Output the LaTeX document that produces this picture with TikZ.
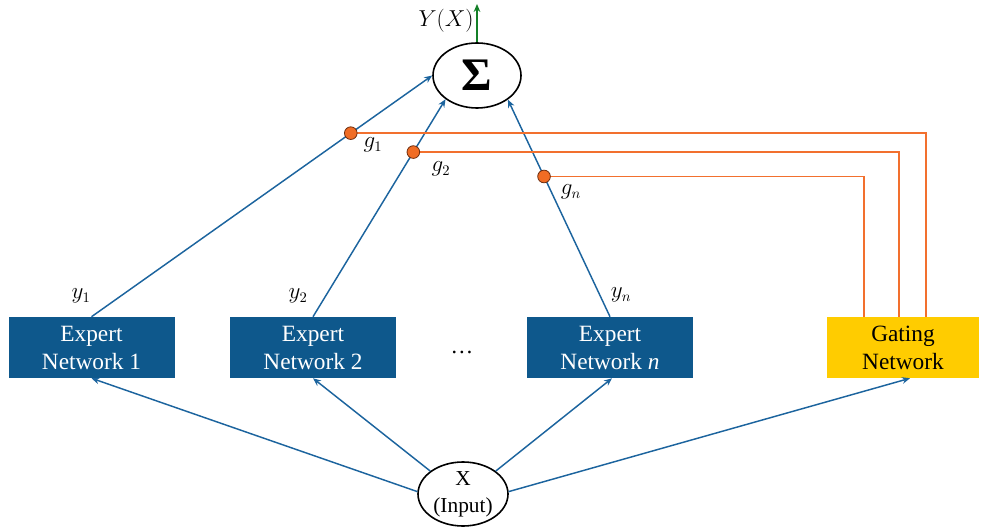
\documentclass[tikz,border=0pt]{standalone}
\usepackage{fontspec}
\setmainfont{Liberation Serif}
\usetikzlibrary{arrows.meta,calc,shapes.geometric}
\definecolor{boxblue}{RGB}{14,88,140}
\definecolor{arrblue}{RGB}{28,100,158}
\definecolor{gold}{RGB}{255,204,0}
\definecolor{gorange}{RGB}{242,112,46}
\definecolor{dotorange}{RGB}{240,108,36}
\definecolor{dotedge}{RGB}{110,45,15}
\definecolor{outgreen}{RGB}{20,128,40}
\begin{document}
\begin{tikzpicture}[x=0.75pt,y=-0.75pt,
  expbox/.style={rectangle,fill=boxblue,text=white,minimum width=124.5pt,minimum height=45.75pt,inner sep=0pt,align=center,font=\fontsize{17.5}{21}\selectfont},
  gatebox/.style={rectangle,fill=gold,text=black,minimum width=114pt,minimum height=45.75pt,inner sep=0pt,align=center,font=\fontsize{17.5}{21}\selectfont},
  ell/.style={ellipse,draw=black,line width=1.2pt,fill=white,inner sep=0pt},
  arr/.style={draw=arrblue,line width=1.1pt,-{Stealth[length=6pt,width=5pt]}},
  gline/.style={draw=gorange,line width=1.4pt},
  gdot/.style={circle,fill=dotorange,draw=dotedge,line width=0.6pt,minimum size=9.5pt,inner sep=0pt},
  lbl/.style={font=\fontsize{16}{18}\selectfont,inner sep=0pt}
]
\useasboundingbox (0,0) rectangle (981,527);

% nodes
\node[ell,minimum width=66pt,minimum height=48.75pt] (sig) at (477,75.5) {\fontsize{35}{35}\selectfont\textbf{Σ}};
\node[ell,minimum width=67.5pt,minimum height=48pt,align=center,font=\fontsize{16}{20}\selectfont] (inp) at (463,494) {X\\(Input)};
\node[expbox] (e1) at (91.5,347.5) {Expert\\Network 1};
\node[expbox] (e2) at (313,347.5) {Expert\\Network 2};
\node[expbox] (en) at (610,347.5) {Expert\\Network \textit{n}};
\node[gatebox] (gate) at (903,347.5) {Gating\\Network};
\node[font=\fontsize{17}{20}\selectfont,inner sep=0pt] (dots) at (462,352) {\ldots};

% output
\coordinate (out) at (477,4);
\draw[draw=outgreen,line width=1.1pt,-{Stealth[length=6pt,width=5pt]}] (sig.north) -- (out);
\node[lbl] (yx) at (446,21) {$Y(X)$};

% input arrows
\draw[arr] (inp.177) -- (e1.south);
\draw[arr] (inp.145) -- (e2.south);
\draw[arr] (inp.35) -- ($(en.south)+(2,0)$);
\draw[arr] (inp.3) -- ($(gate.south)+(7,0)$);

% expert outputs
\draw[arr] (e1.north) -- coordinate[pos=0.761] (g1) (sig.180);
\draw[arr] (e2.north) -- coordinate[pos=0.757] (g2) (sig.217);
\draw[arr] (en.north) -- coordinate[pos=0.646] (gn) (sig.322);

% gating lines
\coordinate (t1) at ($(gate.north)+(23,0)$);
\coordinate (t2) at ($(gate.north)+(-4,0)$);
\coordinate (tn) at ($(gate.north)+(-39,0)$);
\draw[gline] (g1) -| (t1);
\draw[gline] (g2) -| (t2);
\draw[gline] (gn) -| (tn);
\node[gdot] (d1) at (g1) {};
\node[gdot] (d2) at (g2) {};
\node[gdot] (dn) at (gn) {};

% labels
\node[lbl] (ly1) at (81,296) {$y_1$};
\node[lbl] (ly2) at (298,296) {$y_2$};
\node[lbl] (lyn) at (621,295) {$y_n$};
\node[lbl] (lg1) at (373,145) {$g_1$};
\node[lbl] (lg2) at (441,169) {$g_2$};
\node[lbl] (lgn) at (571,192) {$g_n$};
\end{tikzpicture}
\end{document}
